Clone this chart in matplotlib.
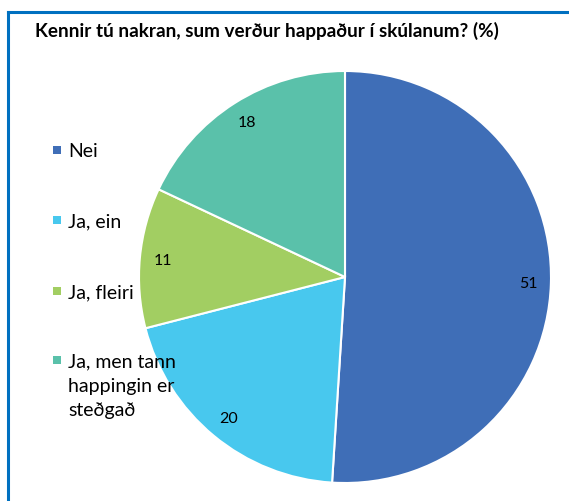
import matplotlib
matplotlib.use('Agg')
from matplotlib import pyplot
from matplotlib.patches import Rectangle
from matplotlib.lines import Line2D

# data
categories = ['Nei', 'Ja, ein', 'Ja, fleiri', 'Ja, men tann\nhappingin er\nsteðgað']
values = [51, 20, 11, 18]
colors = ['#3F6EB7', '#48C8EE', '#A2CE62', '#5AC1AA']
title = 'Kennir tú nakran, sum verður happaður í skúlanum? (%)'

pyplot.rcParams['font.family'] = ['Lato', 'DejaVu Sans']

W, H = 569, 502
fig = pyplot.figure(figsize=(W / 100, H / 100), dpi=100)

# border (only top and left visible in the crop)
fig.add_artist(Line2D([8 / W, 8 / W], [0, 1 - 13 / H], color='#0070C0', linewidth=2.2))
fig.add_artist(Line2D([8 / W, 1], [1 - 13 / H, 1 - 13 / H], color='#0070C0', linewidth=2.2))

fig.text(35 / W, 1 - 31 / H, title, fontsize=13.6, fontweight='bold', va='center', ha='left')

# pie
cx, cy, r = 345, 278, 206
ax = fig.add_axes([(cx - r) / W, 1 - (cy + r) / H, 2 * r / W, 2 * r / H])
wedges, texts = ax.pie(values, colors=colors, startangle=90, counterclock=False,
                       labels=[str(v) for v in values], labeldistance=0.89,
                       wedgeprops=dict(edgecolor='white', linewidth=1.5),
                       textprops=dict(fontsize=11.5, color='black', ha='center', va='center'))
ax.set_xlim(-1, 1)
ax.set_ylim(-1, 1)
ax.axis('off')

# legend drawn by hand so the marker sits on the first line
rows_y = [151, 221, 292, 361]
for label, color, y in zip(categories, colors, rows_y):
    fig.add_artist(Rectangle((53 / W, 1 - (y + 4) / H), 8 / W, 8 / H, facecolor=color,
                             edgecolor='none', transform=fig.transFigure))
    fig.text(68 / W, 1 - (y - 8) / H, label, fontsize=14, va='top', ha='left',
             linespacing=1.55)

pyplot.savefig('out.png', dpi=100)
pyplot.close()
